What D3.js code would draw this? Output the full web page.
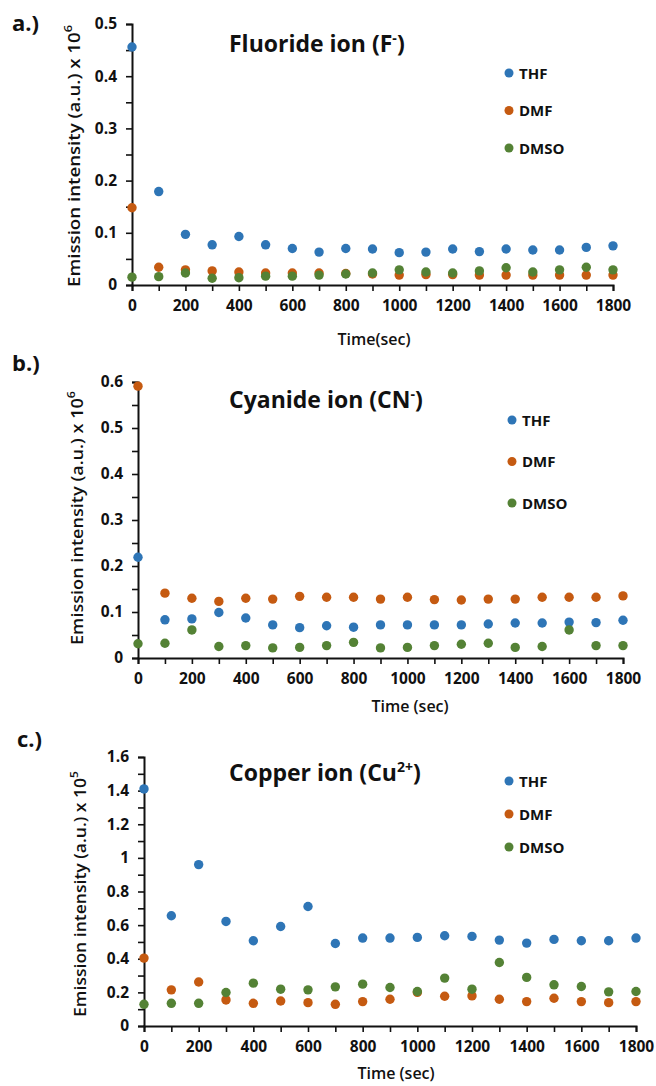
<!DOCTYPE html>
<html>
<head>
<meta charset="utf-8">
<script src="https://cdn.jsdelivr.net/npm/d3@7"></script>
<style>
  body { margin: 0; background: #fff; }
  svg text { font-family: "Open Sans", "Noto Sans", sans-serif; fill: #111; }
</style>
</head>
<body>
<svg id="fig" width="656" height="1086"></svg>
<script>
// Sampling times (sec)
const times = [0, 100, 200, 300, 400, 500, 600, 700, 800, 900, 1000, 1100, 1200, 1300, 1400, 1500, 1600, 1700, 1800];
const solvents = ["THF", "DMF", "DMSO"];
const solventColors = ["#2E75B6", "#C55A11", "#548235"];

// a.) Fluoride ion, emission intensity x 10^6
const fluorideTHF  = [0.456, 0.179, 0.097, 0.077, 0.093, 0.077, 0.070, 0.063, 0.070, 0.069, 0.062, 0.063, 0.069, 0.064, 0.069, 0.067, 0.067, 0.072, 0.075];
const fluorideDMF  = [0.148, 0.034, 0.029, 0.027, 0.025, 0.023, 0.023, 0.023, 0.022, 0.021, 0.019, 0.020, 0.020, 0.019, 0.019, 0.019, 0.019, 0.019, 0.019];
const fluorideDMSO = [0.015, 0.016, 0.023, 0.013, 0.014, 0.017, 0.017, 0.019, 0.021, 0.023, 0.029, 0.025, 0.023, 0.027, 0.033, 0.025, 0.029, 0.034, 0.029];

// b.) Cyanide ion, emission intensity x 10^6
const cyanideTHF  = [0.219, 0.083, 0.085, 0.099, 0.087, 0.072, 0.066, 0.070, 0.067, 0.072, 0.072, 0.072, 0.072, 0.074, 0.076, 0.076, 0.078, 0.077, 0.082];
const cyanideDMF  = [0.591, 0.141, 0.130, 0.123, 0.130, 0.128, 0.134, 0.132, 0.132, 0.128, 0.132, 0.127, 0.126, 0.128, 0.128, 0.132, 0.132, 0.132, 0.135];
const cyanideDMSO = [0.031, 0.032, 0.061, 0.025, 0.027, 0.022, 0.023, 0.027, 0.034, 0.022, 0.023, 0.027, 0.030, 0.032, 0.023, 0.025, 0.061, 0.027, 0.027];

// c.) Copper ion, emission intensity x 10^5
const copperTHF  = [1.41, 0.656, 0.960, 0.622, 0.507, 0.592, 0.711, 0.491, 0.523, 0.523, 0.527, 0.537, 0.533, 0.511, 0.493, 0.515, 0.507, 0.507, 0.523];
const copperDMF  = [0.404, 0.215, 0.262, 0.155, 0.135, 0.149, 0.139, 0.129, 0.145, 0.159, 0.200, 0.177, 0.179, 0.159, 0.145, 0.165, 0.145, 0.139, 0.145];
const copperDMSO = [0.129, 0.135, 0.135, 0.199, 0.255, 0.219, 0.215, 0.233, 0.249, 0.229, 0.205, 0.285, 0.219, 0.378, 0.289, 0.245, 0.235, 0.203, 0.205];

// Axis ticks
const xTicks = times;
const xTickLabels = [0, 200, 400, 600, 800, 1000, 1200, 1400, 1600, 1800];
const fluorideYTicks = [0, 0.05, 0.1, 0.15, 0.2, 0.25, 0.3, 0.35, 0.4, 0.45, 0.5];
const fluorideYLabels = [0, 0.1, 0.2, 0.3, 0.4, 0.5];
const cyanideYTicks = [0, 0.05, 0.1, 0.15, 0.2, 0.25, 0.3, 0.35, 0.4, 0.45, 0.5, 0.55, 0.6];
const cyanideYLabels = [0, 0.1, 0.2, 0.3, 0.4, 0.5, 0.6];
const copperYTicks = [0, 0.1, 0.2, 0.3, 0.4, 0.5, 0.6, 0.7, 0.8, 0.9, 1, 1.1, 1.2, 1.3, 1.4, 1.5, 1.6];
const copperYLabels = [0, 0.2, 0.4, 0.6, 0.8, 1, 1.2, 1.4, 1.6];

const panels = [
  {
    tag: "a.)", title: ["Fluoride ion (F", "-", ")"], exp: "6", xTitle: "Time(sec)",
    series: [fluorideTHF, fluorideDMF, fluorideDMSO],
    yMax: 0.5, yTicks: fluorideYTicks, yLabels: fluorideYLabels,
    box: { left: 132, right: 613, top: 24, bottom: 285 },
    tagPos: [12, 31], titlePos: [229, 52], legendPos: [509, 73, 37.5],
    yTitlePos: [74, 156], yTitleLen: 262, xTitlePos: [374, 345]
  },
  {
    tag: "b.)", title: ["Cyanide ion (CN", "-", ")"], exp: "6", xTitle: "Time (sec)",
    series: [cyanideTHF, cyanideDMF, cyanideDMSO],
    yMax: 0.6, yTicks: cyanideYTicks, yLabels: cyanideYLabels,
    box: { left: 138, right: 623, top: 382, bottom: 658 },
    tagPos: [12, 371], titlePos: [229, 408], legendPos: [512, 420, 41.5],
    yTitlePos: [77, 518], yTitleLen: 254, xTitlePos: [410, 712]
  },
  {
    tag: "c.)", title: ["Copper ion (Cu", "2+", ")"], exp: "5", xTitle: "Time (sec)",
    series: [copperTHF, copperDMF, copperDMSO],
    yMax: 1.6, yTicks: copperYTicks, yLabels: copperYLabels,
    box: { left: 144, right: 636, top: 757, bottom: 1026 },
    tagPos: [17, 747], titlePos: [229, 781], legendPos: [509, 781, 33],
    yTitlePos: [80, 894], yTitleLen: 246, xTitlePos: [396, 1079]
  }
];

const svg = d3.select("#fig");
const fmt = d3.format("~g");

panels.forEach(p => {
  const g = svg.append("g");
  const x = d3.scaleLinear().domain([0, 1800]).range([p.box.left, p.box.right]);
  const y = d3.scaleLinear().domain([0, p.yMax]).range([p.box.bottom, p.box.top]);

  // x axis: minor tick every 100 s, label every 200 s
  const xAxis = g.append("g")
    .attr("transform", `translate(0,${p.box.bottom})`)
    .call(d3.axisBottom(x).tickValues(xTicks).tickSizeOuter(0).tickSize(6).tickPadding(9)
      .tickFormat(d => xTickLabels.includes(d) ? fmt(d) : ""));

  // y axis
  const yAxis = g.append("g")
    .attr("transform", `translate(${p.box.left},0)`)
    .call(d3.axisLeft(y).tickValues(p.yTicks).tickSizeOuter(0).tickSize(6).tickPadding(9)
      .tickFormat(d => p.yLabels.some(v => Math.abs(v - d) < 1e-9) ? fmt(d) : ""));

  [xAxis, yAxis].forEach(ax => {
    ax.select(".domain").attr("stroke", "#111").attr("stroke-width", 2);
    ax.selectAll(".tick line").attr("stroke", "#111").attr("stroke-width", 1.6);
    ax.selectAll(".tick text")
      .style("font-family", '"Open Sans", sans-serif')
      .style("font-size", "15.5px").style("font-weight", 700).attr("fill", "#111");
  });

  // data points
  p.series.forEach((vals, si) => {
    g.append("g").selectAll("circle")
      .data(vals)
      .join("circle")
      .attr("cx", (d, i) => x(times[i]))
      .attr("cy", d => y(d))
      .attr("r", 4.7)
      .attr("fill", solventColors[si]);
  });

  // panel tag
  g.append("text").attr("x", p.tagPos[0]).attr("y", p.tagPos[1])
    .style("font-size", "22px").style("font-weight", 700).text(p.tag);

  // title with superscript charge
  const t = g.append("text").attr("x", p.titlePos[0]).attr("y", p.titlePos[1])
    .style("font-size", "23px").style("font-weight", 700);
  t.append("tspan").text(p.title[0]);
  t.append("tspan").attr("dy", -9).style("font-size", "14px").text(p.title[1]);
  t.append("tspan").attr("dy", 9).text(p.title[2]);

  // legend
  solvents.forEach((s, si) => {
    const ly = p.legendPos[1] + si * p.legendPos[2];
    g.append("circle").attr("cx", p.legendPos[0]).attr("cy", ly).attr("r", 4.5)
      .attr("fill", solventColors[si]);
    g.append("text").attr("x", p.legendPos[0] + 10).attr("y", ly + 5.5)
      .style("font-size", "15px").style("font-weight", 700).text(s);
  });

  // y title (rotated)
  const yt = g.append("text")
    .attr("transform", `translate(${p.yTitlePos[0]},${p.yTitlePos[1]}) rotate(-90)`)
    .attr("text-anchor", "middle").attr("dominant-baseline", "central")
    .attr("textLength", p.yTitleLen).attr("lengthAdjust", "spacingAndGlyphs")
    .style("font-size", "16px").style("font-weight", 600);
  yt.append("tspan").text("Emission intensity (a.u.) x 10");
  yt.append("tspan").attr("dy", -7).style("font-size", "11px").text(p.exp);

  // x title
  g.append("text").attr("x", p.xTitlePos[0]).attr("y", p.xTitlePos[1])
    .attr("text-anchor", "middle")
    .style("font-size", "16px").style("font-weight", 600).text(p.xTitle);
});
</script>
</body>
</html>
